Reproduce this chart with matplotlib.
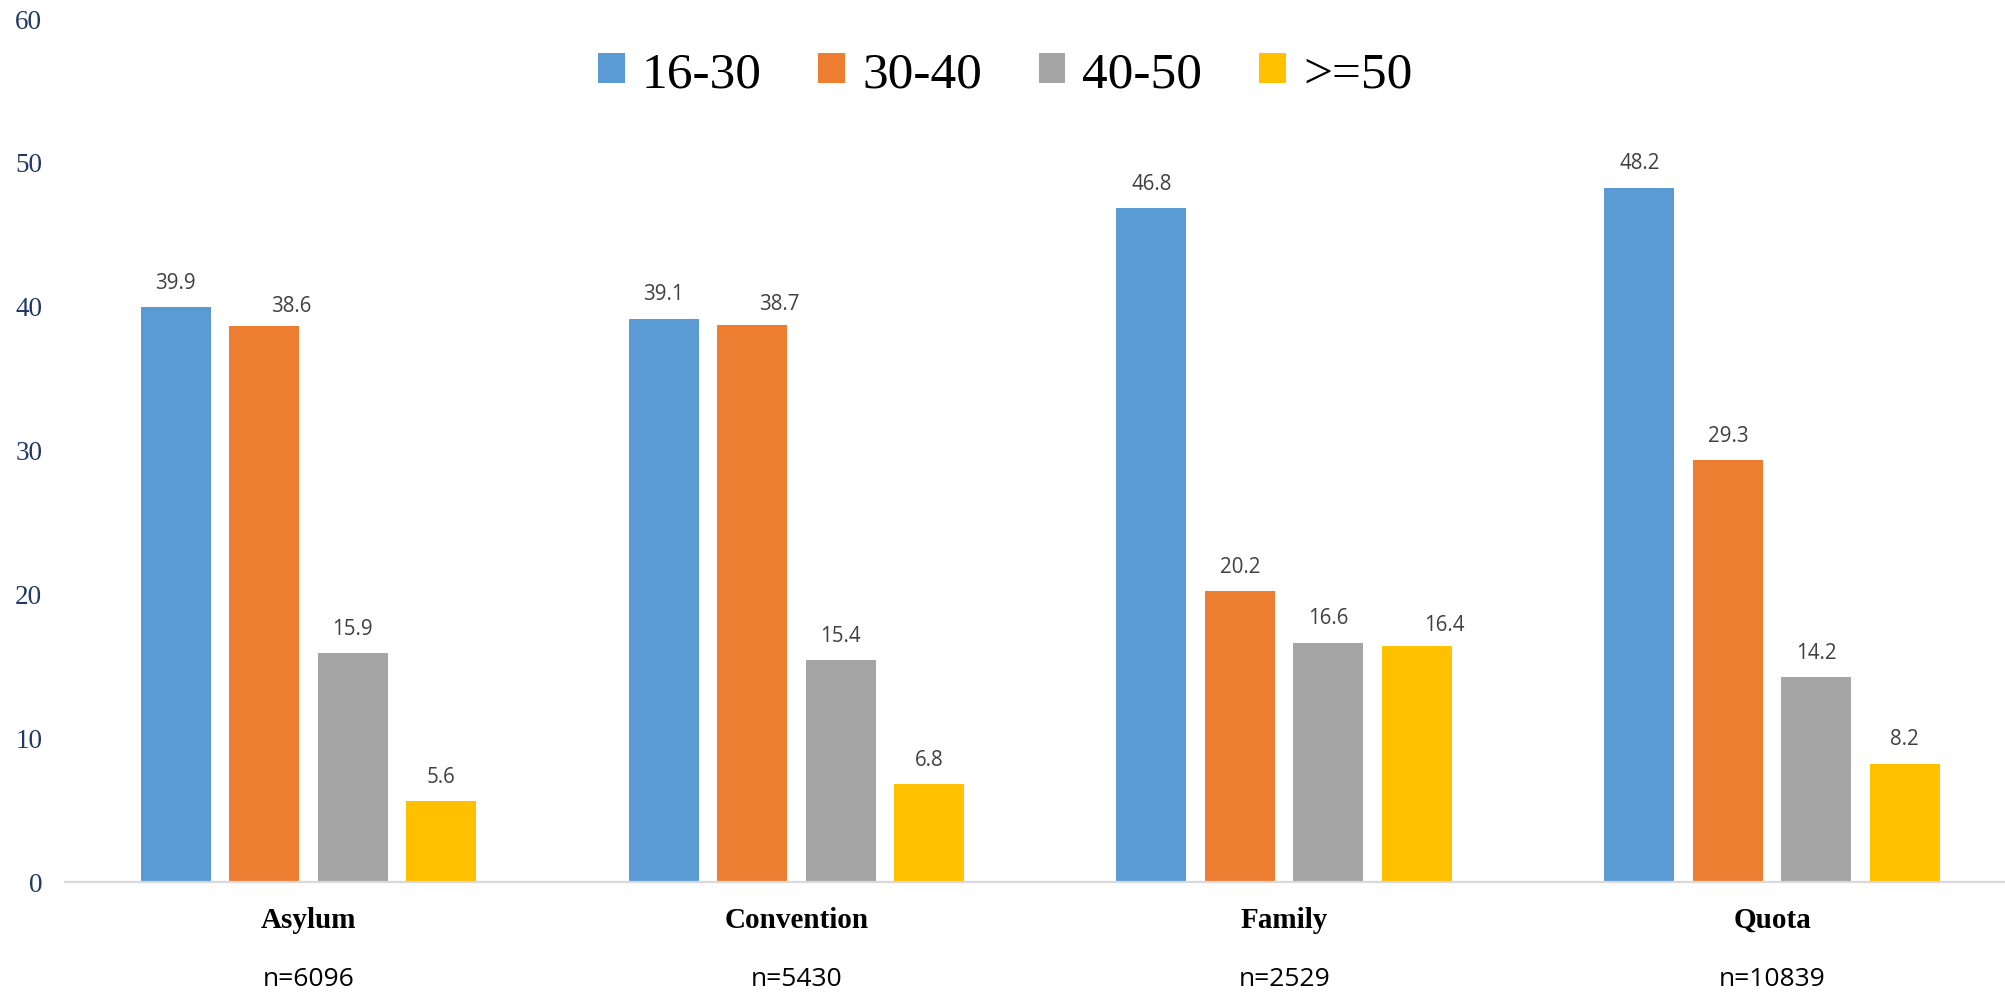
import matplotlib.pyplot as plt
import numpy as np

# data
categories = ['Asylum', 'Convention', 'Family', 'Quota']
sample_sizes = ['n=6096', 'n=5430', 'n=2529', 'n=10839']
age_groups = ['16-30', '30-40', '40-50', '>=50']
age_16_30 = [39.9, 39.1, 46.8, 48.2]
age_30_40 = [38.6, 38.7, 20.2, 29.3]
age_40_50 = [15.9, 15.4, 16.6, 14.2]
age_50_plus = [5.6, 6.8, 16.4, 8.2]

series = [age_16_30, age_30_40, age_40_50, age_50_plus]
colors = ['#5B9BD5', '#ED7D31', '#A5A5A5', '#FFC000']

fig = plt.figure(figsize=(20.06, 9.95), dpi=100)
ax = fig.add_axes([0.0322, 0.1126, 0.9728, 0.8683])

x = np.arange(len(categories))
pitch = 0.1814
width = 0.1435

for j, (vals, col, name) in enumerate(zip(series, colors, age_groups)):
    pos = x + (j - 1.5) * pitch
    ax.bar(pos, vals, width, color=col, label=name, zorder=2)
    for i, (p, v) in enumerate(zip(pos, vals)):
        # nudge the label sideways when it would crowd the neighbouring one
        dx, dy = 0, 25
        if j > 0 and abs(series[j - 1][i] - v) < 2:
            dx, dy = 27, 21
        ax.annotate(f'{v:.1f}', (p, v), xytext=(dx, dy), textcoords='offset pixels',
                    ha='center', va='center', fontsize=14.8, family='Open Sans',
                    color='#404040')

ax.set_xlim(-0.5, 3.5)
ax.set_ylim(0, 60)
ax.set_yticks(range(0, 61, 10))
ax.set_xticks(x)
ax.set_xticklabels(categories, fontsize=21, family='Liberation Serif', fontweight='bold')
ax.tick_params(axis='x', length=0, pad=17)
ax.tick_params(axis='y', length=0, pad=16, labelsize=19.5, labelcolor='#1F3864')
for lab in ax.get_yticklabels():
    lab.set_family('Liberation Serif')

for s in ['top', 'right', 'left']:
    ax.spines[s].set_visible(False)
ax.spines['bottom'].set_color('#D9D9D9')
ax.spines['bottom'].set_linewidth(1.6)

for i, n in enumerate(sample_sizes):
    ax.text(x[i], -0.112, n, transform=ax.get_xaxis_transform(), ha='center', va='center',
            fontsize=19, family='Open Sans', color='black')

fig.legend(loc='center', bbox_to_anchor=(1005 / 2006, 1 - 75 / 995), ncol=4, frameon=False,
           prop={'family': 'Liberation Serif', 'size': 37}, handlelength=0.525,
           handleheight=0.525, handletextpad=0.33, columnspacing=1.1)

plt.savefig('out.png', dpi=100)
plt.close()
